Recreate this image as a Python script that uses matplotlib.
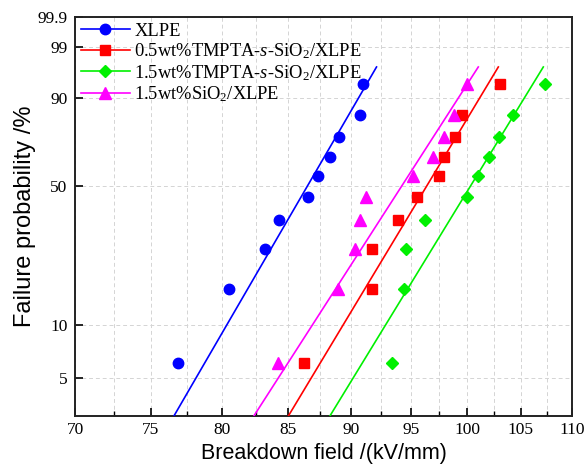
import numpy as np
import matplotlib
matplotlib.use("Agg")
import matplotlib.pyplot as plt
from matplotlib.lines import Line2D
from matplotlib.ticker import FixedLocator, NullFormatter, FixedFormatter

plt.rcParams["mathtext.fontset"] = "custom"
plt.rcParams["mathtext.rm"] = "Liberation Serif"
plt.rcParams["mathtext.it"] = "Liberation Serif:italic"

# Failure probability (%) of the ranked specimens (10 per sample)
probability = [6.1, 15.9, 25.6, 35.4, 45.1, 54.9, 64.6, 74.4, 84.1, 93.9]

# Breakdown field (kV/mm) of each sample, sorted
field_xlpe = [76.9, 80.5, 83.2, 84.3, 86.5, 87.3, 88.3, 89.0, 90.7, 91.0]
field_05_tmpta = [86.2, 91.7, 91.7, 93.9, 95.5, 97.5, 97.9, 98.9, 99.5, 103.0]
field_15_tmpta = [93.4, 94.4, 94.6, 96.2, 100.0, 101.0, 102.0, 102.9, 104.3, 107.3]
field_15_sio2 = [84.2, 88.9, 90.3, 90.7, 91.2, 95.2, 96.9, 97.9, 98.8, 100.0]

# Weibull fit parameters: scale (kV/mm) and shape
weibull_scale = [87.7, 97.8, 101.8, 95.7]
weibull_shape = [25.7, 24.8, 24.4, 23.2]

labels = [
    "XLPE",
    r"0.5wt%TMPTA-$\it{s}$-SiO$_2$/XLPE",
    r"1.5wt%TMPTA-$\it{s}$-SiO$_2$/XLPE",
    r"1.5wt%SiO$_2$/XLPE",
]
colors = ["#0000ff", "#ff0000", "#00f000", "#ff00ff"]
markers = ["o", "s", "D", "^"]
marker_sizes = [7.5, 6.5, 6.5, 8]

x_ticks = [70, 75, 80, 85, 90, 95, 100, 105, 110]
x_minor = [72.5, 77.5, 82.5, 87.5, 92.5, 97.5, 102.5, 107.5]
y_ticks = [5, 10, 50, 90, 99, 99.9]
y_ticklabels = ["5", "10", "50", "90", "99", "99.9"]


def weibull_fwd(p):
    p = np.asarray(p, dtype=float)
    with np.errstate(divide="ignore", invalid="ignore"):
        q = np.clip(p / 100.0, 1e-12, 1 - 1e-12)
        return np.log(-np.log(1.0 - q))


def weibull_inv(y):
    y = np.asarray(y, dtype=float)
    return 100.0 * (1.0 - np.exp(-np.exp(y)))


fig = plt.figure(figsize=(5.86, 4.66), dpi=100)
ax = fig.add_axes([0.128, 0.1073, 0.848, 0.8562])

ax.set_xscale("log")
ax.set_yscale("function", functions=(weibull_fwd, weibull_inv))

fields = [field_xlpe, field_05_tmpta, field_15_tmpta, field_15_sio2]
p_line = np.linspace(1.0, 97.0, 200)
handles = []
for f, a, b, c, m, ms, lab in zip(fields, weibull_scale, weibull_shape,
                                   colors, markers, marker_sizes, labels):
    e_line = a * (-np.log(1 - p_line / 100.0)) ** (1.0 / b)
    ax.plot(e_line, p_line, color=c, lw=1.2, zorder=3)
    ax.plot(f, probability, linestyle="none", marker=m, ms=ms,
            color=c, mec=c, zorder=4)
    handles.append(Line2D([], [], color=c, lw=1.2, marker=m, ms=ms,
                          mec=c, label=lab))

ax.set_xlim(70, 110)
ax.set_ylim(3.03, 99.9)

ax.xaxis.set_major_locator(FixedLocator(x_ticks))
ax.xaxis.set_major_formatter(FixedFormatter([str(v) for v in x_ticks]))
ax.xaxis.set_minor_locator(FixedLocator(x_minor))
ax.xaxis.set_minor_formatter(NullFormatter())
ax.yaxis.set_major_locator(FixedLocator(y_ticks))
ax.yaxis.set_major_formatter(FixedFormatter(y_ticklabels))
ax.yaxis.set_minor_locator(FixedLocator([]))

ax.tick_params(axis="both", which="major", direction="in", length=6,
               width=1.2, labelsize=12.5, top=False, right=False)
ax.tick_params(axis="y", which="major", pad=5.5)
ax.tick_params(axis="x", which="major", pad=4)
ax.tick_params(axis="x", which="minor", direction="in", length=3.5,
               width=1.0, top=False)
for lab in ax.get_xticklabels() + ax.get_yticklabels():
    lab.set_fontfamily("Liberation Serif")

ax.grid(True, which="major", axis="both", linestyle=(0, (4, 3)),
        color="#d4d4d4", lw=0.7, zorder=0)
ax.grid(True, which="minor", axis="x", linestyle=(0, (4, 3)),
        color="#d4d4d4", lw=0.7, zorder=0)

for s in ax.spines.values():
    s.set_linewidth(1.4)
    s.set_color("#222222")

ax.set_xlabel("Breakdown field /(kV/mm)", fontsize=15.5,
              fontfamily="Liberation Sans", labelpad=4)
ax.set_ylabel("Failure probability /%", fontsize=17,
              fontfamily="Liberation Sans", labelpad=1)

ax.legend(handles=handles, loc="upper left", frameon=False,
          prop={"family": "Liberation Serif", "size": 13.3},
          handlelength=2.65, handletextpad=0.25, labelspacing=0.1,
          borderaxespad=0.15, borderpad=0.15)

fig.savefig("out.png", dpi=100)
